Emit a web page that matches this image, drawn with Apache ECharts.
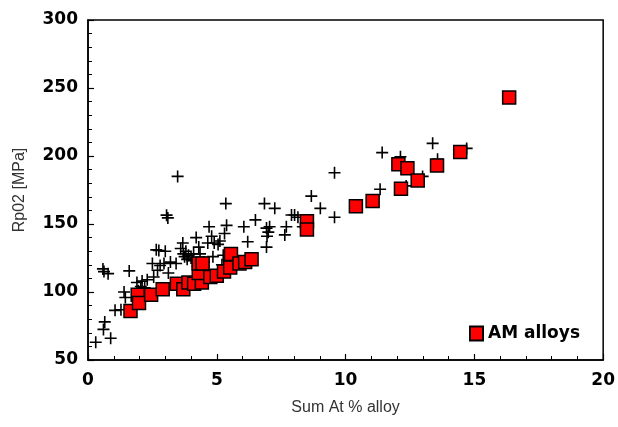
<!DOCTYPE html>
<html>
<head>
<meta charset="utf-8">
<script src="https://cdn.jsdelivr.net/npm/echarts@6/dist/echarts.min.js"></script>
<style>html,body{margin:0;padding:0;background:#fff}#c{width:618px;height:427px}</style>
</head>
<body>
<div id="c"></div>
<script>
var xTicks = [0, 5, 10, 15, 20];
var yTicks = [50, 100, 150, 200, 250, 300];
var xName = 'Sum At % alloy';
var yName = 'Rp02 [MPa]';
var amName = 'AM alloys';

var otherAlloys = [
  [0.3, 63], [0.6, 72.5], [0.65, 78], [0.88, 66], [0.58, 117], [0.62, 115], [0.78, 113.5],
  [1.05, 86.5], [1.28, 87], [1.4, 100], [1.45, 96], [1.6, 115.5], [1.9, 107], [1.95, 101],
  [2.05, 104], [2.1, 108], [2.2, 103], [2.3, 109], [2.5, 121], [2.55, 111], [2.65, 131],
  [2.75, 130.5], [2.7, 116], [2.8, 119.5], [2.95, 121], [3.0, 130], [3.05, 156.5], [3.1, 154.5],
  [3.12, 114], [3.2, 122], [3.42, 121], [3.48, 185], [3.6, 132], [3.68, 136], [3.7, 128],
  [3.75, 126], [3.8, 130], [3.85, 124], [3.9, 127], [4.0, 125], [4.05, 123], [4.1, 128],
  [4.2, 140], [4.3, 133], [4.35, 128], [4.5, 122], [4.65, 136], [4.7, 148], [4.8, 141],
  [4.85, 126], [4.9, 136], [5.05, 135], [5.12, 137.5], [5.2, 120], [5.25, 127], [5.3, 143],
  [5.35, 165], [5.38, 149], [6.05, 148], [6.2, 137], [6.5, 153], [6.85, 165], [6.93, 133],
  [6.95, 141], [6.93, 147], [7.0, 144], [7.05, 148], [7.25, 161.5], [7.64, 142], [7.7, 148],
  [7.9, 156.6], [8.02, 156.6], [8.15, 155], [8.34, 148], [8.67, 170.5], [9.02, 161.5],
  [9.57, 187.7], [9.57, 155], [11.34, 175.5], [11.42, 202.5], [12.13, 199.5], [12.35, 178],
  [12.99, 185], [13.38, 209.3], [13.57, 197.6], [14.7, 205.6]
];

var amAlloys = [
  [1.65, 86], [1.93, 98], [1.98, 92], [2.45, 98], [2.9, 102], [3.45, 106], [3.7, 102],
  [3.9, 107], [4.12, 106], [4.42, 107], [4.3, 114], [4.3, 121], [4.45, 121], [4.75, 111],
  [5.0, 112], [5.28, 115], [5.52, 118], [5.55, 128], [5.88, 121], [6.1, 122], [6.35, 124],
  [8.5, 152], [8.5, 146], [10.4, 163], [11.05, 167], [12.05, 194], [12.15, 176], [12.4, 191],
  [12.8, 182], [13.55, 193], [14.45, 203], [16.35, 243]
];

var plusPath = 'path://M0,5.2H5.2V0H6.8V5.2H12V6.8H6.8V12H5.2V6.8H0Z';
var tickFont = {color: '#000', fontFamily: 'DejaVu Sans', fontWeight: 'bold', fontSize: 17};
var nameFont = {color: '#333', fontFamily: 'Liberation Sans', fontSize: 16};

var chart = echarts.init(document.getElementById('c'), null, {renderer: 'canvas'});
chart.setOption({
  animation: false,
  backgroundColor: '#fff',
  grid: {left: 88, right: 14, top: 20, bottom: 67, show: true, borderColor: '#000', borderWidth: 1.5, backgroundColor: 'transparent'},
  legend: {
    data: [amName], left: 464, top: 320, itemWidth: 13, itemHeight: 14, icon: 'rect',
    textStyle: {color: '#000', fontFamily: 'DejaVu Sans', fontWeight: 'bold', fontSize: 17}
  },
  xAxis: {
    type: 'value', min: xTicks[0], max: xTicks[xTicks.length - 1], interval: 5,
    name: xName, nameLocation: 'middle', nameGap: 40, nameTextStyle: nameFont,
    axisLine: {lineStyle: {color: '#000', width: 1.5}},
    axisTick: {inside: true, length: 6, lineStyle: {color: '#000', width: 1.2}},
    minorTick: {show: true, splitNumber: 5, length: 4, lineStyle: {color: '#000', width: 1}},
    splitLine: {show: false},
    axisLabel: Object.assign({margin: 12}, tickFont)
  },
  yAxis: {
    type: 'value', min: yTicks[0], max: yTicks[yTicks.length - 1], interval: 50,
    name: yName, nameLocation: 'middle', nameGap: 60, nameRotate: 90, nameTextStyle: nameFont,
    axisLine: {show: true, lineStyle: {color: '#000', width: 1.5}},
    axisTick: {show: true, inside: true, length: 6, lineStyle: {color: '#000', width: 1.2}},
    minorTick: {show: true, splitNumber: 5, length: 4, lineStyle: {color: '#000', width: 1}},
    splitLine: {show: false},
    axisLabel: Object.assign({margin: 10}, tickFont)
  },
  series: [
    {
      type: 'scatter', name: 'Other alloys', data: otherAlloys,
      symbol: plusPath, symbolSize: 12, itemStyle: {color: '#000', opacity: 1}
    },
    {
      type: 'scatter', name: amName, data: amAlloys,
      symbol: 'rect', symbolSize: 13,
      itemStyle: {color: '#ff0000', borderColor: '#000', borderWidth: 1.5, opacity: 1}
    }
  ]
});
</script>
</body>
</html>
